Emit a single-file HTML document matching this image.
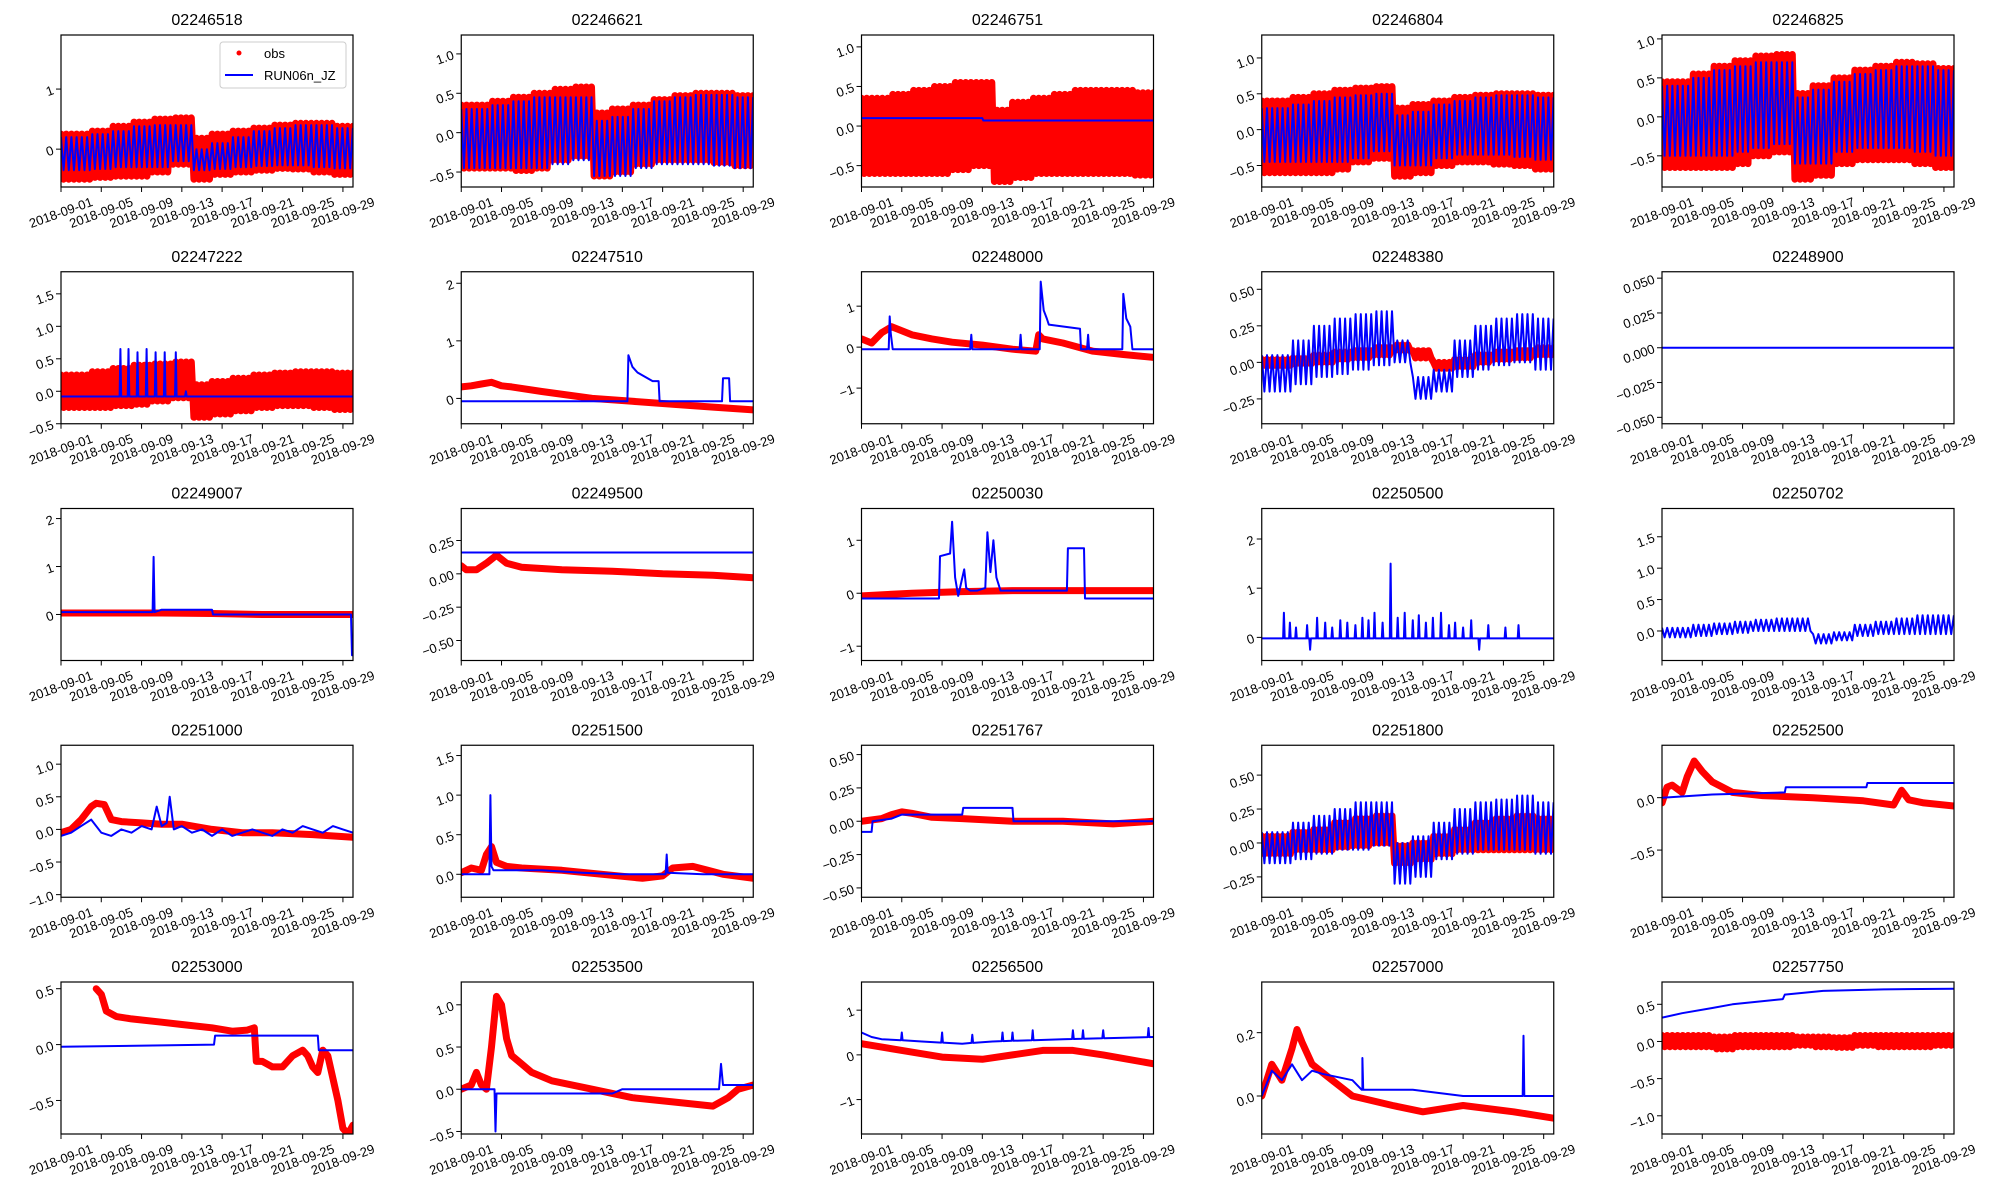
<!DOCTYPE html>
<html><head><meta charset="utf-8">
<style>
html,body{margin:0;padding:0;background:#fff;}
svg{display:block;font-family:"Liberation Sans","DejaVu Sans",sans-serif;}
</style></head>
<body>
<svg id="chart" width="2000" height="1200" viewBox="0 0 2000 1200"></svg>
<script>
// ---------- data ----------
const siteNames = ["02246518","02246621","02246751","02246804","02246825","02247222","02247510","02248000","02248380","02248900","02249007","02249500","02250030","02250500","02250702","02251000","02251500","02251767","02251800","02252500","02253000","02253500","02256500","02257000","02257750"];
const xTickLabels = ["2018-09-01","2018-09-05","2018-09-09","2018-09-13","2018-09-17","2018-09-21","2018-09-25","2018-09-29"];
const xTickDays = [0,4,8,12,16,20,24,28];
const yMins = [-0.63,-0.69,-0.77,-0.8,-0.9,-0.5,-0.44,-1.87,-0.42,-0.0546,-0.96,-0.65,-1.27,-0.47,-0.47,-1.04,-0.29,-0.57,-0.4,-0.95,-0.8,-0.53,-1.77,-0.12,-1.245];
const yMaxs = [1.9,1.24,1.15,1.32,1.05,1.84,2.2,1.84,0.62,0.0546,2.21,0.49,1.6,2.62,1.95,1.29,1.63,0.57,0.72,0.5,0.56,1.27,1.63,0.36,0.80];
const yTicks = [[0,1],[-0.5,0,0.5,1],[-0.5,0,0.5,1],[-0.5,0,0.5,1],[-0.5,0,0.5,1],
 [-0.5,0,0.5,1,1.5],[0,1,2],[-1,0,1],[-0.25,0,0.25,0.5],[-0.05,-0.025,0,0.025,0.05],
 [0,1,2],[-0.5,-0.25,0,0.25],[-1,0,1],[0,1,2],[0,0.5,1,1.5],
 [-1,-0.5,0,0.5,1],[0,0.5,1,1.5],[-0.5,-0.25,0,0.25,0.5],[-0.25,0,0.25,0.5],[-0.5,0],
 [-0.5,0,0.5],[-0.5,0,0.5,1],[-1,0,1],[0,0.2],[-1,-0.5,0,0.5]];
const yDecimals = [0,1,1,1,1,1,0,0,2,3,0,2,0,0,1,1,1,2,2,1,1,1,0,1,1];

// tidal envelopes (value per 2-day block)
const p01_obsHi=[0.25,0.3,0.38,0.45,0.5,0.52,0.18,0.25,0.3,0.35,0.4,0.43,0.43,0.38,0.33];
const p01_obsLo=[-0.5,-0.47,-0.45,-0.45,-0.38,-0.25,-0.5,-0.42,-0.38,-0.35,-0.32,-0.33,-0.38,-0.42,-0.47];
const p01_modHi=[0.2,0.25,0.3,0.38,0.4,0.4,0.0,0.1,0.2,0.3,0.35,0.4,0.4,0.35,0.3];
const p01_modLo=[-0.35,-0.33,-0.3,-0.3,-0.3,-0.2,-0.35,-0.33,-0.3,-0.28,-0.27,-0.27,-0.3,-0.32,-0.35];
const p02_obsHi=[0.35,0.4,0.45,0.5,0.55,0.58,0.25,0.3,0.35,0.42,0.47,0.5,0.5,0.47,0.42];
const p02_obsLo=[-0.45,-0.45,-0.48,-0.45,-0.35,-0.3,-0.55,-0.5,-0.4,-0.35,-0.35,-0.35,-0.38,-0.42,-0.45];
const p02_modHi=[0.3,0.35,0.4,0.45,0.45,0.45,0.15,0.2,0.3,0.4,0.45,0.48,0.48,0.45,0.4];
const p02_modLo=[-0.45,-0.45,-0.45,-0.45,-0.4,-0.35,-0.55,-0.55,-0.45,-0.4,-0.4,-0.4,-0.42,-0.45,-0.45];
const p03_obsHi=[0.35,0.4,0.45,0.5,0.55,0.55,0.2,0.3,0.35,0.4,0.45,0.45,0.45,0.42,0.4];
const p03_obsLo=[-0.6,-0.6,-0.6,-0.6,-0.55,-0.5,-0.7,-0.65,-0.6,-0.6,-0.6,-0.6,-0.6,-0.62,-0.65];
const p03_modT=[0,12,12.1,29], p03_modV=[0.1,0.1,0.07,0.07];
const p04_obsHi=[0.4,0.45,0.5,0.55,0.58,0.6,0.3,0.35,0.4,0.45,0.48,0.5,0.5,0.48,0.45];
const p04_obsLo=[-0.6,-0.6,-0.6,-0.55,-0.45,-0.4,-0.65,-0.6,-0.5,-0.45,-0.45,-0.48,-0.5,-0.55,-0.6];
const p04_modHi=[0.3,0.35,0.4,0.45,0.48,0.5,0.2,0.25,0.35,0.4,0.45,0.48,0.48,0.45,0.4];
const p04_modLo=[-0.45,-0.45,-0.45,-0.45,-0.4,-0.3,-0.5,-0.5,-0.4,-0.35,-0.35,-0.35,-0.38,-0.42,-0.45];
const p05_obsHi=[0.45,0.55,0.65,0.72,0.78,0.8,0.3,0.4,0.5,0.6,0.65,0.7,0.68,0.62,0.55];
const p05_obsLo=[-0.65,-0.65,-0.65,-0.6,-0.5,-0.45,-0.8,-0.75,-0.6,-0.55,-0.55,-0.55,-0.6,-0.65,-0.7];
const p05_modHi=[0.4,0.5,0.6,0.65,0.7,0.7,0.25,0.35,0.45,0.55,0.6,0.65,0.65,0.6,0.5];
const p05_modLo=[-0.5,-0.5,-0.5,-0.45,-0.4,-0.35,-0.6,-0.6,-0.45,-0.4,-0.4,-0.4,-0.45,-0.5,-0.55];
const p06_obsHi=[0.25,0.3,0.35,0.4,0.42,0.45,0.1,0.15,0.2,0.25,0.28,0.3,0.3,0.28,0.25];
const p06_obsLo=[-0.25,-0.25,-0.22,-0.2,-0.15,-0.1,-0.4,-0.35,-0.3,-0.25,-0.22,-0.22,-0.25,-0.28,-0.3];
const p06_modT=[0,29], p06_modV=[-0.08,-0.08];
const p06_spikeDay=[5.9,6.7,7.6,8.5,9.4,10.3,11.4,12.4], p06_spikeVal=[0.65,0.65,0.6,0.65,0.6,0.6,0.6,0.0];
const p07_obsT=[0,1,2,3,4,5,8,13,17,21,25,29], p07_obsV=[0.2,0.22,0.25,0.28,0.22,0.2,0.12,0.0,-0.05,-0.1,-0.15,-0.2];
const p07_modT=[0,16.5,16.6,17,17.5,18,19,19.6,19.7,25.9,26,26.6,26.7,29], p07_modV=[-0.05,-0.05,0.75,0.55,0.45,0.4,0.3,0.3,-0.05,-0.05,0.35,0.35,-0.05,-0.05];
const p08_obsT=[0,1,2,3,4,5,7,9,12,15,17.3,17.6,18,20,23,26,29], p08_obsV=[0.2,0.1,0.35,0.5,0.4,0.3,0.2,0.12,0.05,-0.05,-0.1,0.3,0.2,0.1,-0.1,-0.18,-0.25];
const p08_modT=[0,2.7,2.8,2.9,3.1,10.8,10.9,11.0,15.7,15.8,15.9,17.7,17.8,18.1,18.4,18.6,21.7,21.8,22.4,22.5,22.6,25.9,26.0,26.3,26.5,26.7,26.9,29], p08_modV=[-0.05,-0.05,0.75,0.35,-0.05,-0.05,0.3,-0.05,-0.05,0.3,-0.05,-0.05,1.6,0.9,0.7,0.55,0.45,-0.05,-0.05,0.3,-0.05,-0.05,1.3,0.7,0.6,0.5,-0.05,-0.05];
const p09_obsHi=[0.02,0.03,0.05,0.07,0.08,0.1,0.12,0.08,0.0,0.02,0.05,0.07,0.08,0.1,0.1];
const p09_obsLo=[-0.02,-0.01,0.0,0.02,0.03,0.05,0.08,0.03,-0.04,-0.03,0.0,0.02,0.03,0.05,0.05];
const p09_modHi=[0.05,0.15,0.25,0.3,0.33,0.35,0.15,-0.1,-0.05,0.15,0.25,0.3,0.33,0.3,0.2];
const p09_modLo=[-0.2,-0.15,-0.1,-0.08,-0.05,-0.02,0.0,-0.25,-0.2,-0.1,-0.05,-0.02,0.0,-0.05,-0.12];
const p10_modT=[0,29], p10_modV=[0,0];
const p11_obsT=[0,10,15,20,29], p11_obsV=[0.03,0.03,0.02,0.0,0.0];
const p11_modT=[0,9.1,9.2,9.3,10,15,15.1,28.8,28.9,29], p11_modV=[0.05,0.05,1.2,0.05,0.1,0.1,0.0,0.0,-0.85,-0.85];
const p12_obsT=[0,0.5,1.5,2.5,3.5,4.5,6,10,15,20,25,29], p12_obsV=[0.06,0.03,0.03,0.08,0.14,0.08,0.05,0.03,0.02,0.0,-0.01,-0.03];
const p12_modT=[0,29], p12_modV=[0.16,0.16];
const p13_obsT=[0,5,10,15,20,25,29], p13_obsV=[-0.05,0.0,0.03,0.05,0.05,0.05,0.05];
const p13_modT=[0,7.7,7.8,8.8,9.0,9.3,9.6,10.2,10.4,10.8,11.5,12.3,12.5,12.8,13.1,13.4,13.8,20.4,20.5,22.1,22.2,29], p13_modV=[-0.1,-0.1,0.7,0.75,1.35,0.3,-0.05,0.45,0.1,0.05,0.05,0.1,1.15,0.4,1.0,0.3,0.05,0.05,0.85,0.85,-0.1,-0.1];
const p14_modT=[0,29], p14_modV=[-0.02,-0.02];
const p14_spikeDay=[2.2,2.8,3.4,4.5,4.8,5.5,6.3,7,7.8,8.5,9.3,10,10.6,11.2,12.0,12.8,13.5,14.2,15,15.6,16.3,17,17.8,18.6,19.2,20,20.8,21.6,22.5,24.2,25.5];
const p14_spikeVal=[0.5,0.3,0.2,0.25,-0.25,0.4,0.3,0.2,0.35,0.3,0.25,0.4,0.35,0.5,0.3,1.5,0.4,0.5,0.35,0.45,0.3,0.4,0.5,0.25,0.3,0.2,0.35,-0.25,0.25,0.2,0.25];
const p15_modHi=[0.05,0.1,0.12,0.15,0.18,0.2,0.2,-0.05,-0.02,0.1,0.15,0.2,0.25,0.25,0.15];
const p15_modLo=[-0.1,-0.08,-0.05,-0.03,0,0,0,-0.2,-0.15,-0.08,-0.05,-0.05,-0.05,-0.05,-0.1];
const p16_obsT=[0,1,2,3,3.5,4.3,5,6,8,10,12,15,18,21,25,29], p16_obsV=[-0.05,0.0,0.15,0.35,0.4,0.38,0.15,0.12,0.1,0.08,0.08,0.0,-0.05,-0.05,-0.08,-0.12];
const p16_modT=[0,1,2,3,4,5,6,7,8,9,9.5,10,10.5,10.8,11.2,12,13,14,15,16,17,18,19,20,21,22,23,24,25,26,27,28,29];
const p16_modV=[-0.1,-0.05,0.05,0.15,-0.05,-0.1,0.0,-0.05,0.05,0.0,0.35,0.05,0.1,0.5,0.0,0.05,-0.05,0.0,-0.1,0.0,-0.1,-0.05,0.0,-0.05,-0.1,0.0,-0.05,0.05,0.0,-0.05,0.05,0.0,-0.05];
const p17_obsT=[0,1,2,2.5,3,3.5,4.5,6,10,14,18,20,21,23,24.5,26,29], p17_obsV=[0.02,0.08,0.05,0.25,0.35,0.15,0.1,0.08,0.05,0.0,-0.05,-0.02,0.08,0.1,0.05,0.0,-0.05];
const p17_modT=[0,2.8,2.9,3.0,3.2,8,12,16,20.3,20.4,20.5,24,29], p17_modV=[0.0,0.0,1.0,0.1,0.05,0.05,0.02,0.0,0.0,0.25,0.02,0.0,0.0];
const p18_obsT=[0,2,3,4,5,7,10,15,20,25,29], p18_obsV=[0.0,0.02,0.05,0.07,0.06,0.03,0.02,0.0,0.0,-0.02,0.0];
const p18_modT=[0,1,1.1,3,4,4.1,10,10.1,15,15.1,29], p18_modV=[-0.08,-0.08,0.0,0.02,0.05,0.05,0.05,0.1,0.1,0.0,0.0];
const p19_obsHi=[0.05,0.08,0.1,0.15,0.18,0.2,-0.02,0.0,0.05,0.1,0.15,0.18,0.2,0.18,0.1];
const p19_obsLo=[-0.08,-0.05,-0.05,-0.03,-0.02,0.0,-0.15,-0.12,-0.08,-0.05,-0.05,-0.05,-0.05,-0.05,-0.08];
const p19_modHi=[0.08,0.15,0.2,0.25,0.3,0.3,0.0,0.05,0.15,0.25,0.3,0.32,0.35,0.3,0.15];
const p19_modLo=[-0.15,-0.12,-0.08,-0.05,-0.05,-0.02,-0.3,-0.25,-0.12,-0.08,-0.05,-0.05,-0.05,-0.08,-0.12];
const p20_obsT=[0,0.5,1,2,2.5,3.2,4,5,7,10,15,20,23,23.8,24.5,26,29], p20_obsV=[-0.05,0.1,0.12,0.05,0.2,0.35,0.25,0.15,0.05,0.02,0.0,-0.03,-0.07,0.07,-0.02,-0.05,-0.08];
const p20_modT=[0,5,12.2,12.3,20.3,20.4,29], p20_modV=[0,0.03,0.05,0.1,0.1,0.14,0.14];
const p21_obsT=[3.5,4,4.5,5.5,7,10,12,15,17,18.5,19.2,19.4,20,21,22,23,24,24.5,25,25.5,26,26.5,27.5,28,28.5,29];
const p21_obsV=[0.5,0.45,0.3,0.25,0.23,0.2,0.18,0.15,0.12,0.13,0.15,-0.15,-0.15,-0.2,-0.2,-0.1,-0.05,-0.1,-0.2,-0.25,-0.05,-0.1,-0.5,-0.75,-0.8,-0.72];
const p21_modT=[0,15.2,15.3,25.5,25.6,29], p21_modV=[-0.02,0.0,0.08,0.08,-0.05,-0.05];
const p22_obsT=[0,1,1.5,2,2.5,3,3.5,4,4.5,5,6,7,9,13,17,21,25,26.5,27.5,29], p22_obsV=[0.0,0.05,0.2,0.05,0.0,0.5,1.1,1.0,0.6,0.4,0.3,0.2,0.1,0.0,-0.1,-0.15,-0.2,-0.1,0.0,0.05];
const p22_modT=[0,3.3,3.4,3.5,3.7,15,16,25.6,25.8,26,29], p22_modV=[0.0,0.0,-0.5,-0.05,-0.05,-0.05,0.0,0.0,0.3,0.05,0.05];
const p23_obsT=[0,4,8,12,15,18,21,24,29], p23_obsV=[0.25,0.1,-0.05,-0.1,0.0,0.1,0.1,0.0,-0.2];
const p23_modT=[0,1,2,6,10,13,20,29], p23_modV=[0.5,0.4,0.35,0.3,0.25,0.3,0.35,0.4];
const p23_spikeDay=[4,8,11,14,15,17,21,22,24,28.5], p23_spikeVal=[0.5,0.5,0.45,0.5,0.5,0.55,0.55,0.55,0.55,0.6];
const p24_obsT=[0,1,2,3,3.5,4,5,7,9,13,16,20,25,29], p24_obsV=[0.0,0.1,0.05,0.15,0.21,0.17,0.1,0.05,0.0,-0.03,-0.05,-0.03,-0.05,-0.07];
const p24_modT=[0,1,2,3,4,5,6,9,10,15,20,29], p24_modV=[0.0,0.08,0.05,0.1,0.05,0.08,0.07,0.05,0.02,0.02,0.0,0.0];
const p24_spikeDay=[10,26], p24_spikeVal=[0.12,0.19];
const p25_obsHi=[0.08,0.08,0.06,0.08,0.08,0.08,0.06,0.06,0.05,0.08,0.08,0.08,0.08,0.08,0.05];
const p25_obsLo=[-0.07,-0.07,-0.1,-0.07,-0.07,-0.07,-0.05,-0.07,-0.08,-0.05,-0.07,-0.07,-0.07,-0.05,-0.03];
const p25_modT=[0,2,5,7,12,12.2,16,22,29], p25_modV=[0.32,0.38,0.45,0.5,0.57,0.63,0.68,0.7,0.71];

const obsSeries = [
 {hi:p01_obsHi,lo:p01_obsLo},{hi:p02_obsHi,lo:p02_obsLo},{hi:p03_obsHi,lo:p03_obsLo},{hi:p04_obsHi,lo:p04_obsLo},{hi:p05_obsHi,lo:p05_obsLo},
 {hi:p06_obsHi,lo:p06_obsLo},{t:p07_obsT,v:p07_obsV},{t:p08_obsT,v:p08_obsV},{hi:p09_obsHi,lo:p09_obsLo},null,
 {t:p11_obsT,v:p11_obsV},{t:p12_obsT,v:p12_obsV},{t:p13_obsT,v:p13_obsV},null,null,
 {t:p16_obsT,v:p16_obsV},{t:p17_obsT,v:p17_obsV},{t:p18_obsT,v:p18_obsV},{hi:p19_obsHi,lo:p19_obsLo},{t:p20_obsT,v:p20_obsV},
 {t:p21_obsT,v:p21_obsV},{t:p22_obsT,v:p22_obsV},{t:p23_obsT,v:p23_obsV},{t:p24_obsT,v:p24_obsV},{hi:p25_obsHi,lo:p25_obsLo}];
const modSeries = [
 {hi:p01_modHi,lo:p01_modLo},{hi:p02_modHi,lo:p02_modLo},{t:p03_modT,v:p03_modV},{hi:p04_modHi,lo:p04_modLo},{hi:p05_modHi,lo:p05_modLo},
 {t:p06_modT,v:p06_modV,sd:p06_spikeDay,sv:p06_spikeVal},{t:p07_modT,v:p07_modV},{t:p08_modT,v:p08_modV},{hi:p09_modHi,lo:p09_modLo},{t:p10_modT,v:p10_modV},
 {t:p11_modT,v:p11_modV},{t:p12_modT,v:p12_modV},{t:p13_modT,v:p13_modV},{t:p14_modT,v:p14_modV,sd:p14_spikeDay,sv:p14_spikeVal},{hi:p15_modHi,lo:p15_modLo},
 {t:p16_modT,v:p16_modV},{t:p17_modT,v:p17_modV},{t:p18_modT,v:p18_modV},{hi:p19_modHi,lo:p19_modLo},{t:p20_modT,v:p20_modV},
 {t:p21_modT,v:p21_modV},{t:p22_modT,v:p22_modV},{t:p23_modT,v:p23_modV,sd:p23_spikeDay,sv:p23_spikeVal},{t:p24_modT,v:p24_modV,sd:p24_spikeDay,sv:p24_spikeVal},{t:p25_modT,v:p25_modV}];

// ---------- drawing ----------
const NS="http://www.w3.org/2000/svg";
const svg=document.getElementById('chart');
const W=292,H=152,X0=61,Y0=35,DX=400.25,DY=236.75,DAYS=29,HALF=0.2588;
function mk(tag,attrs,parent){const e=document.createElementNS(NS,tag);for(const k in attrs)e.setAttribute(k,attrs[k]);(parent||svg).appendChild(e);return e;}
function fmt(v,d){const s=Math.abs(v).toFixed(d);return (v<0?"\u2212":"")+s;}
function interp(t,v,d){if(d<=t[0])return v[0];for(let i=1;i<t.length;i++){if(d<=t[i]){const f=(d-t[i-1])/(t[i]-t[i-1]);return v[i-1]+f*(v[i]-v[i-1]);}}return v[v.length-1];}
function seriesPoints(s,xf,yf){
  const pts=[];
  if(s.hi){
    for(let k=0;k*HALF<=DAYS+0.001;k++){const d=k*HALF;
      const idx=Math.max(0,Math.min(s.hi.length-1,Math.floor((d-1)/2)));
      const val=(k%2===0?s.hi:s.lo)[idx];pts.push([xf(d),yf(val)]);}
  } else {
    let T=[],V=[];
    if(s.sd){
      const evts=[];
      for(let i=0;i<s.t.length;i++)evts.push([s.t[i],s.v[i]]);
      for(let j=0;j<s.sd.length;j++){const d=s.sd[j];const b=interp(s.t,s.v,d);
        evts.push([d-0.08,b]);evts.push([d,s.sv[j]]);evts.push([d+0.08,b]);}
      evts.sort((a,b)=>a[0]-b[0]);T=evts.map(e=>e[0]);V=evts.map(e=>e[1]);
    } else {T=s.t;V=s.v;}
    for(let i=0;i<T.length;i++)pts.push([xf(T[i]),yf(V[i])]);
  }
  return pts.map(p=>p[0].toFixed(1)+","+p[1].toFixed(1)).join(" ");
}
const defs=mk('defs',{});
for(let i=0;i<25;i++){
  const r=Math.floor(i/5),c=i%5;
  const L=X0+c*DX,T=Y0+r*DY;
  const ymin=yMins[i],ymax=yMaxs[i];
  const xf=d=>L+d/DAYS*W;
  const yf=v=>T+H-(v-ymin)/(ymax-ymin)*H;
  const g=mk('g',{});
  
  
  const cp=mk('clipPath',{id:'cp'+i},defs);mk('rect',{x:L,y:T,width:W,height:H},cp);
  const title=mk('text',{x:L+W/2,y:T-10,'text-anchor':'middle','font-size':16,fill:'#000'},g);
  title.textContent=siteNames[i];
  
  
  const plot=mk('g',{'clip-path':'url(#cp'+i+')'},g);
  if(obsSeries[i]){
    const o=mk('polyline',{points:seriesPoints(obsSeries[i],xf,yf),fill:'none',stroke:'#ff0000','stroke-width':7,'stroke-linejoin':'round','stroke-linecap':'round'},plot);
    
    
  }
  if(modSeries[i]){
    const m=mk('polyline',{points:seriesPoints(modSeries[i],xf,yf),fill:'none',stroke:'#0000ff','stroke-width':2,'stroke-linejoin':'round'},plot);
    
    
  }
  const fr=mk('rect',{x:L,y:T,width:W,height:H,fill:'none',stroke:'#000','stroke-width':1.2},g);
  
  
  for(let k=0;k<xTickDays.length;k++){
    const x=xf(xTickDays[k]);
    mk('line',{x1:x,y1:T+H,x2:x,y2:T+H+5,stroke:'#000','stroke-width':1},g);
    const cy=T+H+26;
    const tl=mk('text',{x:x,y:cy+4,'text-anchor':'middle','font-size':13,fill:'#000',transform:'rotate(-20 '+x+' '+cy+')'},g);
    tl.textContent=xTickLabels[k];
    
    
  }
  for(const v of yTicks[i]){
    const y=yf(v);
    mk('line',{x1:L-5,y1:y,x2:L,y2:y,stroke:'#000','stroke-width':1},g);
    const yl=mk('text',{x:L-8,y:y+5,'text-anchor':'end','font-size':13,fill:'#000',transform:'rotate(-20 '+(L-8)+' '+y+')'},g);
    yl.textContent=fmt(v,yDecimals[i]);
    
    
  }
  if(i===0){
    const lg=mk('g',{},g);
    
    
    mk('rect',{x:220,y:42,width:126,height:46,rx:3,fill:'#fff','fill-opacity':0.85,stroke:'#ccc'},lg);
    const e1=mk('g',{},lg);
    
    
    mk('circle',{cx:239,cy:53,r:2.5,fill:'#ff0000'},e1);
    const t1=mk('text',{x:264,y:58,'font-size':13,fill:'#000'},e1);t1.textContent='obs';
    const e2=mk('g',{},lg);
    
    
    mk('line',{x1:225,y1:75,x2:253,y2:75,stroke:'#0000ff','stroke-width':2},e2);
    const t2=mk('text',{x:264,y:80,'font-size':13,fill:'#000'},e2);t2.textContent='RUN06n_JZ';
  }
}
</script>
</body></html>
